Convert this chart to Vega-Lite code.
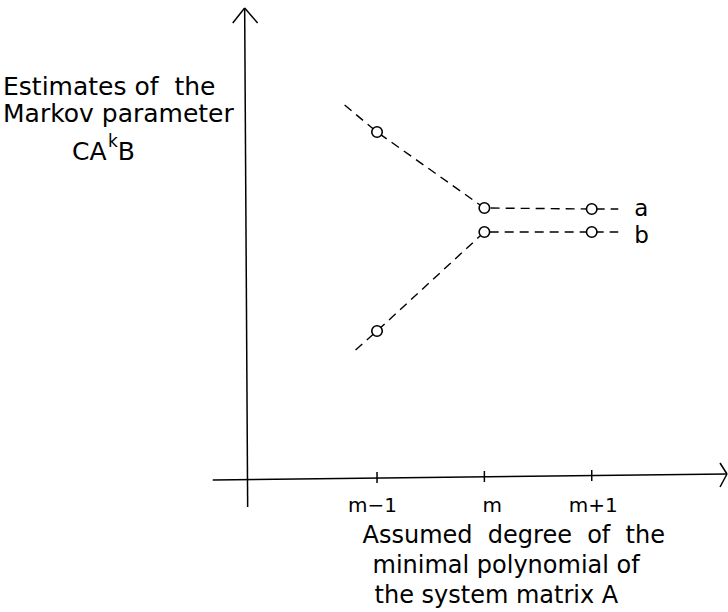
{
  "$schema": "https://vega.github.io/schema/vega-lite/v6.json",
  "width": 728,
  "height": 612,
  "autosize": {"type": "fit", "contains": "padding"},
  "padding": 0,
  "background": "white",
  "config": {"view": {"stroke": null}},
  "datasets": {
    "series": [
      {"series": "a", "x": -1.302, "y": 3.72, "marker": false},
      {"series": "a", "x": -1, "y": 3.45, "marker": true},
      {"series": "a", "x": 0, "y": 2.69, "marker": true},
      {"series": "a", "x": 1, "y": 2.68, "marker": true},
      {"series": "a", "x": 1.247, "y": 2.68, "marker": false},
      {"series": "b", "x": -1.2, "y": 1.27, "marker": false},
      {"series": "b", "x": -1, "y": 1.46, "marker": true},
      {"series": "b", "x": 0, "y": 2.45, "marker": true},
      {"series": "b", "x": 1, "y": 2.45, "marker": true},
      {"series": "b", "x": 1.247, "y": 2.45, "marker": false}
    ],
    "axes": [
      {"part": "vertical axis", "x": -2.233, "y": 4.69, "x2": -2.205, "y2": -0.3},
      {"part": "up arrow left", "x": -2.344, "y": 4.54, "x2": -2.233, "y2": 4.69},
      {"part": "up arrow right", "x": -2.112, "y": 4.54, "x2": -2.233, "y2": 4.69},
      {"part": "horizontal axis", "x": -2.53, "y": -0.03, "x2": 2.26, "y2": 0.03},
      {"part": "right arrow upper", "x": 2.195, "y": 0.14, "x2": 2.26, "y2": 0.03},
      {"part": "right arrow lower", "x": 2.195, "y": -0.1, "x2": 2.26, "y2": 0.03}
    ],
    "ticks": [
      {"x": -1, "y": 0.05, "y2": -0.06},
      {"x": 0, "y": 0.06, "y2": -0.05},
      {"x": 1, "y": 0.07, "y2": -0.04}
    ],
    "tickLabels": [
      {"label": "m−1", "x": -1.042, "y": -0.35},
      {"label": "m", "x": 0.074, "y": -0.35},
      {"label": "m+1", "x": 1.014, "y": -0.35}
    ],
    "yTitle": [
      {"label": "Estimates of\u00a0 the", "x": -4.484, "y": 3.82},
      {"label": "Markov parameter", "x": -4.484, "y": 3.55},
      {"label": "CA", "x": -3.842, "y": 3.17},
      {"label": "B", "x": -3.414, "y": 3.17}
    ],
    "titles": [
      {"label": "Assumed\u00a0 degree\u00a0 of\u00a0 the", "x": -1.135, "y": -0.66},
      {"label": "minimal polynomial of", "x": -1.042, "y": -0.96},
      {"label": "the system matrix A", "x": -1.023, "y": -1.26}
    ],
    "seriesLabels": [
      {"label": "a", "x": 1.395, "y": 2.61},
      {"label": "b", "x": 1.395, "y": 2.34}
    ],
    "markovK": [
      {"label": "k", "x": -3.507, "y": 3.3}
    ]
  },
  "layer": [
    {
      "data": {"name": "axes"},
      "mark": {"type": "rule", "color": "black", "strokeWidth": 1.5},
      "encoding": {
        "x": {"field": "x", "type": "quantitative", "scale": {"domain": [-4.512, 2.26], "nice": false, "zero": false}, "axis": null},
        "y": {"field": "y", "type": "quantitative", "scale": {"domain": [-1.35, 4.77], "nice": false, "zero": false}, "axis": null},
        "x2": {"field": "x2"},
        "y2": {"field": "y2"}
      }
    },
    {
      "data": {"name": "ticks"},
      "mark": {"type": "rule", "color": "black", "strokeWidth": 1.5},
      "encoding": {
        "x": {"field": "x", "type": "quantitative"},
        "y": {"field": "y", "type": "quantitative"},
        "y2": {"field": "y2"}
      }
    },
    {
      "data": {"name": "series"},
      "mark": {"type": "line", "color": "black", "strokeWidth": 1.4, "strokeDash": [9, 6]},
      "encoding": {
        "x": {"field": "x", "type": "quantitative"},
        "y": {"field": "y", "type": "quantitative"},
        "detail": {"field": "series"},
        "order": {"field": "x"}
      }
    },
    {
      "data": {"name": "series"},
      "transform": [{"filter": "datum.marker"}],
      "mark": {"type": "point", "shape": "circle", "filled": true, "fill": "white", "stroke": "black", "strokeWidth": 1.6, "size": 110, "opacity": 1},
      "encoding": {
        "x": {"field": "x", "type": "quantitative"},
        "y": {"field": "y", "type": "quantitative"}
      }
    },
    {
      "data": {"name": "tickLabels"},
      "mark": {"type": "text", "font": "DejaVu Sans", "fontSize": 20, "align": "center", "baseline": "alphabetic", "color": "black"},
      "encoding": {
        "x": {"field": "x", "type": "quantitative"},
        "y": {"field": "y", "type": "quantitative"},
        "text": {"field": "label"}
      }
    },
    {
      "data": {"name": "yTitle"},
      "mark": {"type": "text", "font": "DejaVu Sans", "fontSize": 25, "align": "left", "baseline": "alphabetic", "color": "black"},
      "encoding": {
        "x": {"field": "x", "type": "quantitative"},
        "y": {"field": "y", "type": "quantitative"},
        "text": {"field": "label"}
      }
    },
    {
      "data": {"name": "titles"},
      "mark": {"type": "text", "font": "DejaVu Sans", "fontSize": 24, "align": "left", "baseline": "alphabetic", "color": "black"},
      "encoding": {
        "x": {"field": "x", "type": "quantitative"},
        "y": {"field": "y", "type": "quantitative"},
        "text": {"field": "label"}
      }
    },
    {
      "data": {"name": "seriesLabels"},
      "mark": {"type": "text", "font": "DejaVu Sans", "fontSize": 23, "align": "left", "baseline": "alphabetic", "color": "black"},
      "encoding": {
        "x": {"field": "x", "type": "quantitative"},
        "y": {"field": "y", "type": "quantitative"},
        "text": {"field": "label"}
      }
    },
    {
      "data": {"name": "markovK"},
      "mark": {"type": "text", "font": "DejaVu Sans", "fontSize": 17, "align": "left", "baseline": "alphabetic", "color": "black"},
      "encoding": {
        "x": {"field": "x", "type": "quantitative"},
        "y": {"field": "y", "type": "quantitative"},
        "text": {"field": "label"}
      }
    }
  ]
}
